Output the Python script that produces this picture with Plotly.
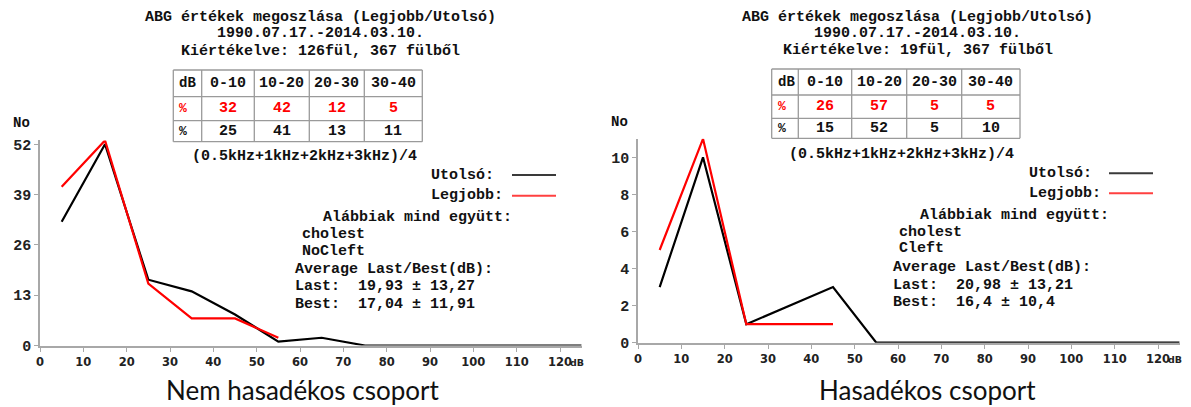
import plotly.graph_objects as go

W, H = 1191, 407
OFF = 8  # default page body margin of the written html

# ---------------- data ----------------
db_bins = [5, 15, 25, 35, 45, 55, 65, 75, 85, 95, 105, 115, 125]
left_last = [32, 52, 17, 14, 8, 1, 2, 0, 0, 0, 0, 0, 0]
left_best = [41, 53, 16, 7, 7, 2]
right_last = [3, 10, 1, 2, 3, 0, 0, 0, 0, 0, 0, 0, 0]
right_best = [5, 11, 1, 1, 1]

x_ticks = [0, 10, 20, 30, 40, 50, 60, 70, 80, 90, 100, 110, 120]
left_y_ticks = [0, 13, 26, 39, 52]
right_y_ticks = [0, 2, 4, 6, 8, 10]

table_header = ["dB", "0-10", "10-20", "20-30", "30-40"]
left_best_pct = ["32", "42", "12", "5"]
left_last_pct = ["25", "41", "13", "11"]
right_best_pct = ["26", "57", "5", "5"]
right_last_pct = ["15", "52", "5", "10"]

title_line1 = "ABG értékek megoszlása (Legjobb/Utolsó)"
title_line2 = "1990.07.17.-2014.03.10."
left_title3 = "Kiértékelve: 126fül, 367 fülből"
right_title3 = "Kiértékelve: 19fül, 367 fülből"
formula = "(0.5kHz+1kHz+2kHz+3kHz)/4"
legend_last = "Utolsó:"
legend_best = "Legjobb:"
together = "Alábbiak mind együtt:"
left_group = ["cholest", "NoCleft"]
right_group = ["cholest", "Cleft"]
avg_label = "Average Last/Best(dB):"
left_stats = ["Last:  19,93 ± 13,27", "Best:  17,04 ± 11,91"]
right_stats = ["Last:  20,98 ± 13,21", "Best:  16,4 ± 10,4"]
left_caption = "Nem hasadékos csoport"
right_caption = "Hasadékos csoport"

RED = "#ff0000"
BLACK = "#000000"
AXIS = "#a8a8a8"
MONO = "Liberation Mono"


def px(x):
    return (x - OFF) / W


def py(y):
    return 1 - (y - OFF) / H


fig = go.Figure()

fig.add_trace(go.Scatter(x=db_bins[:len(left_last)], y=left_last, mode="lines",
                         line=dict(color=BLACK, width=2.2), xaxis="x", yaxis="y",
                         name="Utolsó", showlegend=False))
fig.add_trace(go.Scatter(x=db_bins[:len(left_best)], y=left_best, mode="lines",
                         line=dict(color=RED, width=2.2), xaxis="x", yaxis="y",
                         name="Legjobb", showlegend=False))
fig.add_trace(go.Scatter(x=db_bins[:len(right_last)], y=right_last, mode="lines",
                         line=dict(color=BLACK, width=2.2), xaxis="x2", yaxis="y2",
                         name="Utolsó", showlegend=False))
fig.add_trace(go.Scatter(x=db_bins[:len(right_best)], y=right_best, mode="lines",
                         line=dict(color=RED, width=2.2), xaxis="x2", yaxis="y2",
                         name="Legjobb", showlegend=False))

xaxis_common = dict(range=[0, 125], tickvals=x_ticks, ticktext=[str(v) for v in x_ticks],
                    showgrid=False, zeroline=False, showline=True, linecolor=AXIS,
                    linewidth=1.5, ticks="outside", tickcolor=AXIS, ticklen=5, tickwidth=1.2,
                    tickfont=dict(family="DejaVu Sans", size=11.5, color="#222", weight="bold"),
                    automargin=False, fixedrange=True)
yaxis_common = dict(showgrid=False, zeroline=False, showline=True, linecolor=AXIS,
                    linewidth=1.5, ticks="outside", tickcolor=AXIS, ticklen=4, tickwidth=1.2,
                    tickfont=dict(family=MONO, size=15, color="#222", weight="bold"),
                    automargin=False, fixedrange=True)

left_x0, right_x0 = 40.0, 638.0
span = 125 * 4.3333

fig.update_layout(
    width=W, height=H,
    margin=dict(l=0, r=0, t=0, b=0, autoexpand=False),
    paper_bgcolor="white", plot_bgcolor="white",
    showlegend=False,
    xaxis=dict(domain=[px(left_x0), px(left_x0 + span)], anchor="y", **xaxis_common),
    yaxis=dict(domain=[py(345.5), py(140.4)], anchor="x", range=[0, 53],
               tickvals=left_y_ticks, **yaxis_common),
    xaxis2=dict(domain=[px(right_x0), px(right_x0 + span)], anchor="y2", **xaxis_common),
    yaxis2=dict(domain=[py(342.7), py(138.8)], anchor="x2", range=[0, 11],
                tickvals=right_y_ticks, **yaxis_common),
)

annotations = []
shapes = []


def text(x, y, s, size=15, color="#111", xanchor="left", family=MONO, bold=True):
    annotations.append(dict(
        x=px(x), y=py(y), xref="paper", yref="paper", text=s.replace(" ", "\u00a0"),
        showarrow=False, xanchor=xanchor, yanchor="middle", borderpad=0,
        font=dict(family=family, size=size, color=color, weight="bold" if bold else "normal"),
    ))


def panel(cx_title, ty, tab_x, tab_y, formula_xy, leg_x, leg_y, leg_line, info, group, stats,
          best_pct, last_pct, no_xy, dB_xy, caption, cap_x):
    text(cx_title, ty[0], title_line1, xanchor="center")
    text(cx_title, ty[1], title_line2, xanchor="center")
    text(cx_title, ty[2], ty[3], xanchor="center")
    # table grid
    for xv in tab_x:
        shapes.append(dict(type="line", xref="paper", yref="paper", x0=px(xv), x1=px(xv),
                           y0=py(tab_y[0]), y1=py(tab_y[-1]),
                           line=dict(color="#9a9a9a", width=1.3)))
    for yv in tab_y:
        shapes.append(dict(type="line", xref="paper", yref="paper", x0=px(tab_x[0]), x1=px(tab_x[-1]),
                           y0=py(yv), y1=py(yv), line=dict(color="#9a9a9a", width=1.3)))
    rows = [(table_header, "#111"), (["%"] + best_pct, RED), (["%"] + last_pct, "#111")]
    for r, (vals, col) in enumerate(rows):
        yc = (tab_y[r] + tab_y[r + 1]) / 2
        for c, v in enumerate(vals):
            xc = (tab_x[c] + tab_x[c + 1]) / 2
            if c == 0:
                text(tab_x[0] + 5, yc, v, size=13 if r > 0 else 14, color=col, xanchor="left")
            else:
                text(xc, yc, v, size=15, color=col, xanchor="center")
    text(formula_xy[0], formula_xy[1], formula, xanchor="center")
    # legend
    text(leg_x, leg_y[0], legend_last)
    text(leg_x, leg_y[1], legend_best)
    shapes.append(dict(type="line", xref="paper", yref="paper", x0=px(leg_line[0]), x1=px(leg_line[1]),
                       y0=py(leg_y[0]), y1=py(leg_y[0]), line=dict(color="#3a3a3a", width=2)))
    shapes.append(dict(type="line", xref="paper", yref="paper", x0=px(leg_line[0]), x1=px(leg_line[1]),
                       y0=py(leg_y[1]), y1=py(leg_y[1]), line=dict(color="#ff4040", width=2)))
    # info block
    (tx, ty_), (gx, gy), (ax, ay) = info
    text(tx, ty_, together)
    text(gx, gy[0], group[0])
    text(gx, gy[1], group[1])
    text(ax, ay[0], avg_label)
    text(ax, ay[1], stats[0])
    text(ax, ay[2], stats[1])
    # "No" label
    text(no_xy[0], no_xy[1], "No", size=14)
    # dB suffix next to the 120 tick label
    text(dB_xy[0], dB_xy[1], "dB", size=9.5, family="DejaVu Sans", color="#222")
    # caption
    text(cap_x, 390, caption, size=26, family="Lato", color="#111", xanchor="center", bold=False)


panel(cx_title=320, ty=(17.5, 34, 51, left_title3),
      tab_x=[173.3, 201.7, 254.3, 309.3, 364.3, 422.3], tab_y=[70, 96.7, 120.7, 141.7],
      formula_xy=(304, 156.5), leg_x=430, leg_y=(175, 195.7), leg_line=(512, 556),
      info=((321.7, 217.3), (300.7, (234, 251.7)), (294, (269.3, 286.7, 304.3))),
      group=left_group, stats=left_stats, best_pct=left_best_pct, last_pct=left_last_pct,
      no_xy=(12, 123.3), dB_xy=(569, 362), caption=left_caption, cap_x=302.5)

panel(cx_title=917.5, ty=(17.5, 33.5, 50.5, right_title3),
      tab_x=[771.7, 798.3, 851.7, 906.7, 961.7, 1020], tab_y=[69, 95, 118.3, 138.3],
      formula_xy=(901, 154.3), leg_x=1027.7, leg_y=(173.3, 193.3), leg_line=(1109, 1153),
      info=((919, 215), (898, (232, 249)), (891.7, (267.3, 285, 302.7))),
      group=right_group, stats=right_stats, best_pct=right_best_pct, last_pct=right_last_pct,
      no_xy=(610, 121.7), dB_xy=(1167, 359), caption=right_caption, cap_x=927)

fig.update_layout(annotations=annotations, shapes=shapes)

fig.write_html("out.html")
